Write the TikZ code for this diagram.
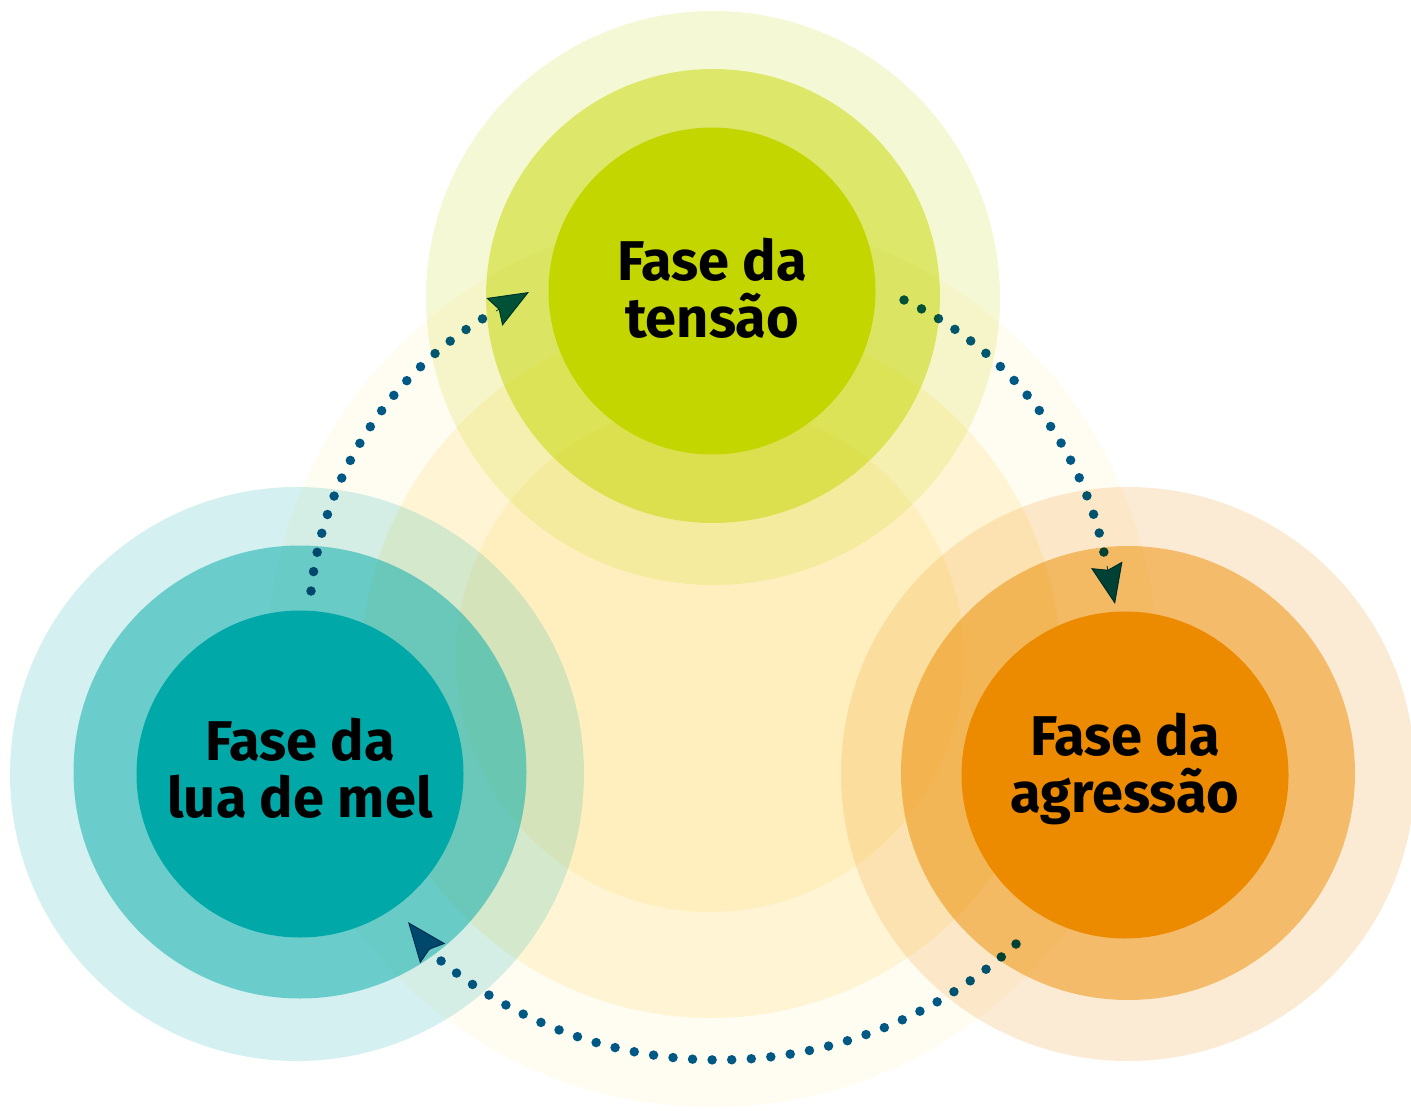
\documentclass[tikz,border=0pt]{standalone}
\usepackage{fontspec}
\setmainfont{Fira Sans}
\usetikzlibrary{arrows.meta}
\definecolor{grn}{HTML}{C4D600}
\definecolor{tea}{HTML}{00A9A8}
\definecolor{org}{HTML}{EC8A00}
\definecolor{yel}{HTML}{FFD141}
\definecolor{dotblue}{HTML}{005B8C}
\tikzset{
  phase/.style={circle, minimum size=163.5pt, inner sep=0pt},
  phasetext/.style={align=center, inner sep=0pt, text=black,
    font=\bfseries\fontsize{28}{28.5}\selectfont},
  ringout/.style={fill opacity=0.17},
  ringmid/.style={fill opacity=0.5},
  dotline/.style={draw=dotblue, line width=4.75pt, line cap=round,
    dash pattern=on 0pt off 9.8pt},
  arrowtip/.style={draw=dotblue, fill=dotblue, line width=0.4pt,
    -{Stealth[length=20pt, width=16pt, inset=2.5pt]}}
}
\begin{document}
\begin{tikzpicture}[x=0.5pt, y=0.5pt]
\useasboundingbox (0,0) rectangle (1411,1110);
\clip (0,0) rectangle (1411,1110);
% central yellow circles
\fill[yel, fill opacity=0.07] (712,448) circle[radius=445];
\fill[yel, fill opacity=0.17] (711,442) circle[radius=350];
\fill[yel, fill opacity=0.15] (710,452) circle[radius=254];
% top group
\fill[grn, ringout] (713,812) circle[radius=287];
\fill[grn, ringmid] (713,814) circle[radius=227];
\node[phase, fill=grn] (top) at (712,819) {};
% left group
\fill[tea, ringout] (297,336) circle[radius=287];
\fill[tea, ringmid] (300,338) circle[radius=226.5];
\node[phase, fill=tea] (left) at (300,336) {};
% right group
\fill[org, ringout] (1128,336) circle[radius=287];
\fill[org, ringmid] (1128,337) circle[radius=227];
\node[phase, fill=org] (right) at (1125,335) {};
% labels
\node[phasetext] (toptxt) at ([yshift=1.5pt]top.center) {Fase da\\tensão};
\node[phasetext] (lefttxt) at ([yshift=3pt]left.center) {Fase da\\lua de mel};
\node[phasetext] (righttxt) at ([yshift=3pt]right.center) {Fase da\\agressão};
% connector points
\coordinate (s1) at (311,519);
\coordinate (e1) at (496,799);
\coordinate (t1) at (529,818);
\coordinate (s2) at (904,810);
\coordinate (e2) at (1107,544);
\coordinate (t2) at (1115,506);
\coordinate (s3) at (1016,166);
\coordinate (e3) at (430,160);
\coordinate (t3) at (408,188);
\begin{scope}[blend mode=multiply]
\draw[dotline] (s1) arc[start angle=174.05, end angle=119.05, radius=363.5];
\draw[arrowtip] (e1) -- (t1);
\draw[dotline] (s2) arc[start angle=64.67, end angle=9.9, radius=363.5];
\draw[arrowtip] (e2) -- (t2);
\draw[dotline] (s3) arc[start angle=-47.38, end angle=-131.2, radius=439];
\draw[arrowtip] (e3) -- (t3);
\end{scope}
\end{tikzpicture}
\end{document}
